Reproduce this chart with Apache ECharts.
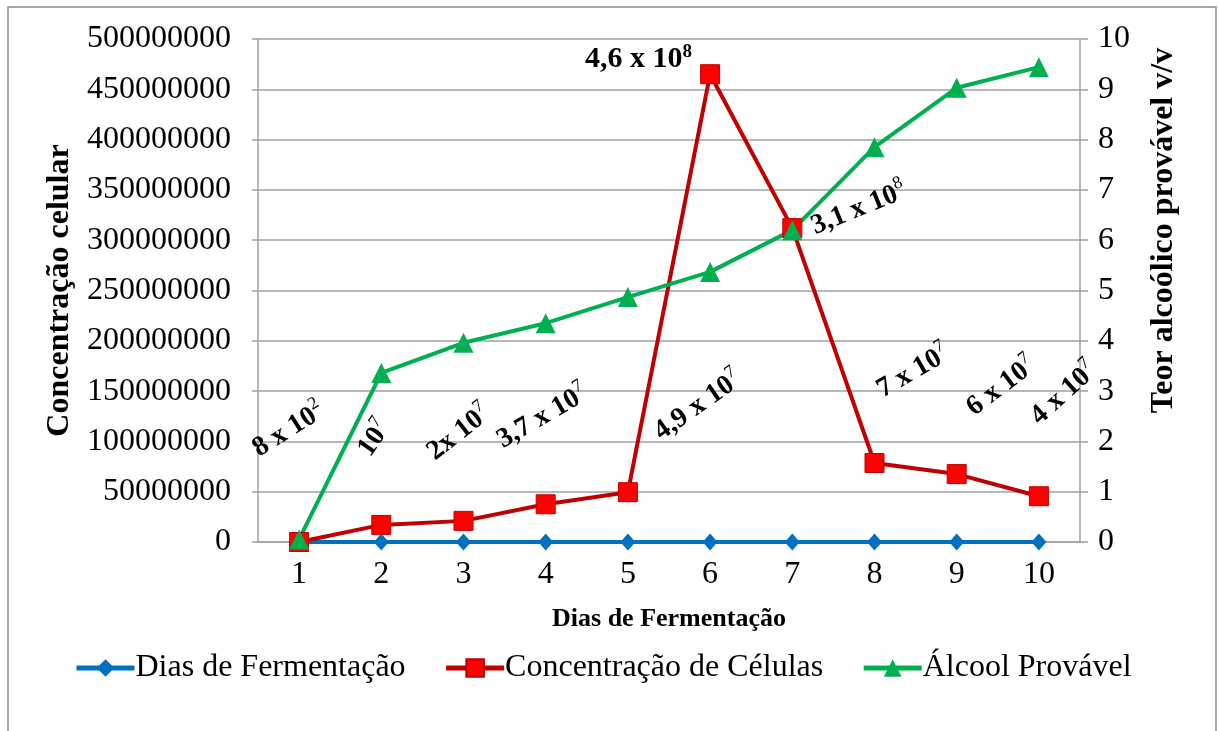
<!DOCTYPE html>
<html>
<head>
<meta charset="utf-8">
<script src="https://cdn.jsdelivr.net/npm/echarts@6/dist/echarts.min.js"></script>
<style>
html,body{margin:0;padding:0;background:#fff;}
#c{width:1219px;height:731px;}
</style>
</head>
<body>
<div id="c"></div>
<script>
// ---- data ----
var days = ['1','2','3','4','5','6','7','8','9','10'];
var diasSeries = [0,0,0,0,0,0,0,0,0,0];
var celulas = [800, 17000000, 21000000, 37500000, 49500000, 465000000, 312000000, 78500000, 67500000, 45500000];
var alcool = [0.05, 3.36, 3.96, 4.35, 4.87, 5.37, 6.2, 7.85, 9.03, 9.44];
var leftTicks = {min: 0, max: 500000000, interval: 50000000};
var rightTicks = {min: 0, max: 10, interval: 1};
var annotationTexts = [
  ['8 x 10', '2'], ['10', '7'], ['2x 10', '7'], ['3,7 x 10', '7'], ['4,9 x 10', '7'],
  ['4,6 x 10', '8'], ['3,1 x 10', '8'], ['7 x 10', '7'], ['6 x 10', '7'], ['4 x 10', '7']
];

// ---- layout of annotations (day position, left-axis value, rotation) ----
var annLayout = [
  [0.86, 113000000, 32], [1.90, 104000000, 55], [2.93, 110000000, 38], [3.95, 126000000, 30],
  [5.84, 137000000, 35], [5.13, 481000000, 0], [7.80, 333000000, 22], [8.46, 171000000, 30],
  [9.53, 156000000, 37], [10.29, 149000000, 42]
];

var FONT = 'Liberation Serif';
var annData = annotationTexts.map(function (t, i) {
  var L = annLayout[i];
  var big = (L[2] === 0);
  return {
    value: [L[0], L[1]],
    label: {
      show: true,
      position: 'inside',
      rotate: L[2],
      color: '#000',
      opacity: 1,
      textBorderWidth: 0,
      formatter: '{b|' + t[0] + '}{s|' + t[1] + '}',
      rich: {
        b: {fontFamily: FONT, fontWeight: 'bold', fontSize: big ? 30 : 28, color: '#000', lineHeight: 32, verticalAlign: 'bottom'},
        s: {fontFamily: FONT, fontWeight: big ? 'bold' : 'normal', fontSize: big ? 19 : 18, color: '#000', lineHeight: 32, verticalAlign: 'top'}
      }
    }
  };
});

var chart = echarts.init(document.getElementById('c'), null, {renderer: 'canvas'});
var gridColor = '#a0a0a0';
function legendItem(name, color, fill) {
  return {name: name, lineStyle: {color: color, width: 5}, itemStyle: {color: fill || color, borderColor: color}};
}
chart.setOption({
  animation: false,
  backgroundColor: '#fff',
  textStyle: {fontFamily: FONT},
  grid: {left: 258, right: 139, top: 39, bottom: 189, containLabel: false},
  legend: {
    data: [
      legendItem('Dias de Fermentação', '#0070C0'),
      legendItem('Concentração de Células', '#C00000', '#FF0000'),
      legendItem('Álcool Provável', '#00B050')
    ],
    left: 69, top: 647,
    itemWidth: 58, itemHeight: 22, itemGap: 38,
    textStyle: {fontFamily: FONT, fontSize: 32, color: '#000', padding: [0, 0, 0, -4]}
  },
  xAxis: [{
    type: 'category', data: days, boundaryGap: true,
    axisLine: {lineStyle: {color: gridColor, width: 1.5}},
    axisTick: {show: false},
    axisLabel: {fontFamily: FONT, fontSize: 32, color: '#000', margin: 17},
    name: 'Dias de Fermentação', nameLocation: 'middle', nameGap: 64,
    nameTextStyle: {fontFamily: FONT, fontSize: 26, fontWeight: 'bold', color: '#000'}
  }, {
    type: 'value', min: 0.5, max: 10.5, show: false
  }],
  yAxis: [{
    type: 'value', min: leftTicks.min, max: leftTicks.max, interval: leftTicks.interval,
    position: 'left',
    axisLine: {show: true, lineStyle: {color: gridColor, width: 1.5}},
    axisTick: {show: true, length: 6, lineStyle: {color: gridColor, width: 1.5}},
    splitLine: {show: true, lineStyle: {color: gridColor, width: 1.5}},
    axisLabel: {fontFamily: FONT, fontSize: 32, color: '#000', margin: 27, formatter: function (v) { return String(v); }},
    name: 'Concentração celular', nameLocation: 'middle', nameGap: 178, nameRotate: 90,
    nameTextStyle: {fontFamily: FONT, fontSize: 32, fontWeight: 'bold', color: '#000'}
  }, {
    type: 'value', min: rightTicks.min, max: rightTicks.max, interval: rightTicks.interval,
    position: 'right',
    axisLine: {show: true, lineStyle: {color: gridColor, width: 1.5}},
    axisTick: {show: true, length: 8, lineStyle: {color: gridColor, width: 1.5}},
    splitLine: {show: false},
    axisLabel: {fontFamily: FONT, fontSize: 32, color: '#000', margin: 18},
    name: 'Teor alcoólico provável v/v', nameLocation: 'middle', nameGap: 68, nameRotate: 90,
    nameTextStyle: {fontFamily: FONT, fontSize: 32, fontWeight: 'bold', color: '#000', padding: [0, 0, 0, 120]}
  }],
  series: [{
    name: 'Dias de Fermentação', type: 'line', data: diasSeries,
    xAxisIndex: 0, yAxisIndex: 0,
    symbol: 'diamond', symbolSize: [15, 17],
    lineStyle: {color: '#0070C0', width: 4},
    itemStyle: {color: '#0070C0'}
  }, {
    name: 'Concentração de Células', type: 'line', data: celulas,
    xAxisIndex: 0, yAxisIndex: 0,
    symbol: 'rect', symbolSize: 19,
    lineStyle: {color: '#C00000', width: 4},
    itemStyle: {color: '#FF0000', borderColor: '#C00000', borderWidth: 1}
  }, {
    name: 'Álcool Provável', type: 'line', data: alcool,
    xAxisIndex: 0, yAxisIndex: 1,
    symbol: 'triangle', symbolSize: 20,
    lineStyle: {color: '#00B050', width: 4},
    itemStyle: {color: '#00B050'}
  }, {
    name: 'annotations', type: 'scatter', data: annData,
    xAxisIndex: 1, yAxisIndex: 0,
    symbolSize: 0, silent: true, z: 10,
    itemStyle: {opacity: 1}
  }],
  graphic: [{
    type: 'rect', shape: {x: 8, y: 7, width: 1208, height: 760},
    style: {fill: null, stroke: '#8c8c8c', lineWidth: 1.5}, silent: true, z: -1
  }]
});
</script>
</body>
</html>
